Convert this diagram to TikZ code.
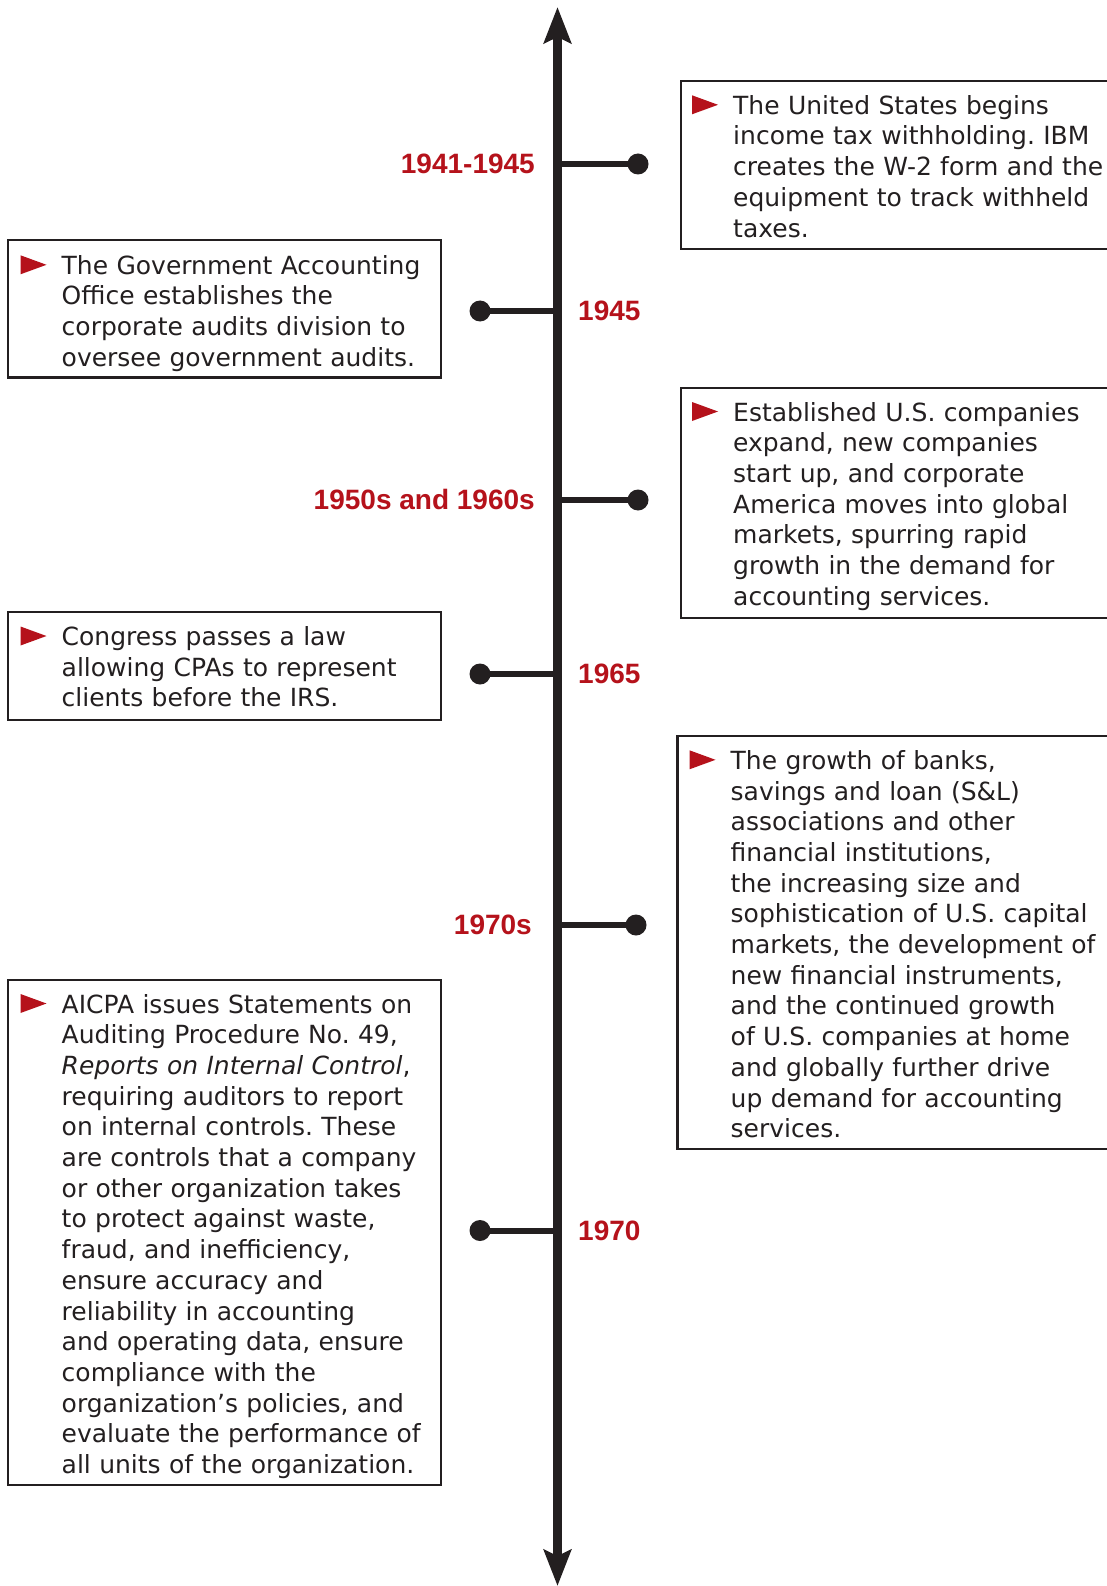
\documentclass[tikz,border=0pt]{standalone}
\usepackage{fontspec}
\setmainfont{DejaVu Sans}
\newfontfamily\yearfont{Liberation Sans}
\usetikzlibrary{arrows.meta,calc}
\definecolor{ink}{HTML}{231F20}
\definecolor{accent}{HTML}{B5121B}
\frenchspacing
\tikzset{
  panel/.style={draw=ink, line width=2.6pt},
  txt/.style={inner sep=0pt, anchor=base west, text width=#1, align=left,
              text=ink, font=\fontsize{25}{30.7}\selectfont},
  txt/.default=420pt,
  year/.style={inner sep=0pt, text=accent, font=\yearfont\bfseries\fontsize{28}{30}\selectfont},
  dot/.style={circle, fill=ink, inner sep=0pt, minimum size=21pt},
  branch/.style={draw=ink, line width=6pt},
  axis/.style={draw=ink, line width=9pt,
    {Stealth[length=36pt,width=27pt,inset=6pt]}-{Stealth[length=36pt,width=27pt,inset=6pt]}},
  flag/.style={fill=accent}
}
\newcommand{\flagat}[1]{\fill[flag] ($(#1.base west)+(-41,-19)$) -- ++(0,19) -- ++(26,-9.5) -- cycle;}
\begin{document}
\begin{tikzpicture}[x=1pt, y=-1pt]
\useasboundingbox (0,0) rectangle (1107,1586);

% time axis
\coordinate (top) at (557.5,7);
\coordinate (bot) at (557.5,1586);
\draw[axis] (top) -- (bot);

% event boxes: left ones closed, right ones run off the page edge
\draw[panel] (1110,81) -- (681,81) -- (681,249) -- (1110,249);
\draw[panel] (8,240) rectangle (441,377.5);
\draw[panel] (1110,388) -- (681,388) -- (681,618) -- (1110,618);
\draw[panel] (8,612) rectangle (441,720);
\draw[panel] (1110,736) -- (677.5,736) -- (677.5,1149) -- (1110,1149);
\draw[panel] (8,980) rectangle (441,1485);

% texts
\node[txt] (t1) at (733,114.3) {The United States begins\\
income tax withholding. IBM\\
creates the W-2 form and the\\
equipment to track withheld\\
taxes.};
\node[txt] (t2) at (61.5,274.3) {The Government Accounting\\
Office establishes the\\
corporate audits division to\\
oversee government audits.};
\node[txt] (t3) at (733,421) {Established U.S. companies\\
expand, new companies\\
start up, and corporate\\
America moves into global\\
markets, spurring rapid\\
growth in the demand for\\
accounting services.};
\node[txt] (t4) at (61.5,645.5) {Congress passes a law\\
allowing CPAs to represent\\
clients before the IRS.};
\node[txt] (t5) at (730.5,769.3) {The growth of banks,\\
savings and loan (S\&L)\\
associations and other\\
financial institutions,\\
the increasing size and\\
sophistication of U.S. capital\\
markets, the development of\\
new financial instruments,\\
and the continued growth\\
of U.S. companies at home\\
and globally further drive\\
up demand for accounting\\
services.};
\node[txt] (t6) at (61.5,1013) {AICPA issues Statements on\\
Auditing Procedure No. 49,\\
\textit{Reports on Internal Control},\\
requiring auditors to report\\
on internal controls. These\\
are controls that a company\\
or other organization takes\\
to protect against waste,\\
fraud, and inefficiency,\\
ensure accuracy and\\
reliability in accounting\\
and operating data, ensure\\
compliance with the\\
organization’s policies, and\\
evaluate the performance of\\
all units of the organization.};

\flagat{t1}\flagat{t2}\flagat{t3}\flagat{t4}\flagat{t5}\flagat{t6}

% branches with dots
\coordinate (a1) at (557.5,164);
\coordinate (a2) at (557.5,311);
\coordinate (a3) at (557.5,500);
\coordinate (a4) at (557.5,674);
\coordinate (a5) at (557.5,925);
\coordinate (a6) at (557.5,1230.5);
\node[dot] (d1) at (638,164) {};
\node[dot] (d2) at (480,311) {};
\node[dot] (d3) at (638,500) {};
\node[dot] (d4) at (480,674) {};
\node[dot] (d5) at (636,925) {};
\node[dot] (d6) at (480,1230.5) {};
\foreach \i in {1,...,6} \draw[branch] (a\i) -- (d\i.center);

% year labels
\node[year, anchor=base east] (y1) at (535,173.7) {1941-1945};
\node[year, anchor=base west] (y2) at (578,320.7) {1945};
\node[year, anchor=base east] (y3) at (535,509.7) {1950s and 1960s};
\node[year, anchor=base west] (y4) at (578,683.7) {1965};
\node[year, anchor=base east] (y5) at (532,934.7) {1970s};
\node[year, anchor=base west] (y6) at (578,1240.2) {1970};
\end{tikzpicture}
\end{document}
